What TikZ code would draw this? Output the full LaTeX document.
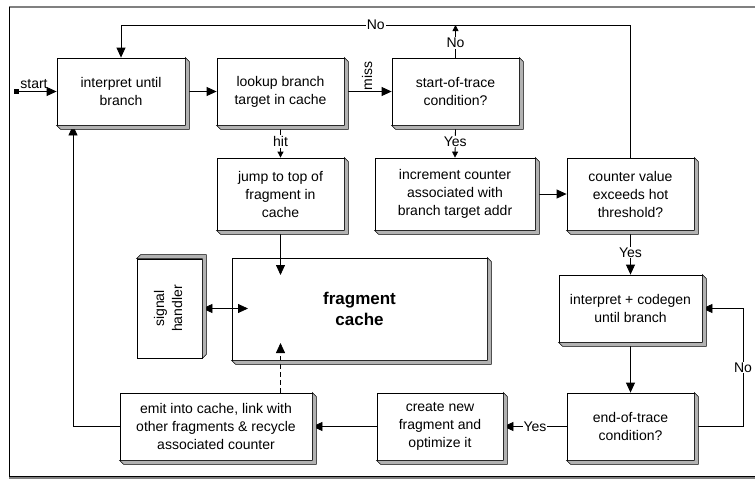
\documentclass[tikz,border=0pt]{standalone}
\usepackage{fontspec}
\setmainfont{Liberation Sans}
\usetikzlibrary{arrows.meta,calc}

\tikzset{
  box/.style={draw, fill=white, line width=0.8pt, align=center, inner sep=0pt,
    font=\fontsize{14}{18}\selectfont},
  lbl/.style={fill=white, inner sep=1pt, font=\fontsize{14}{16}\selectfont},
  conn/.style={line width=0.8pt},
  arr/.style={conn, -{Triangle[length=10pt,width=9pt]}},
  sarr/.style={conn, -{Triangle[length=6pt,width=6pt]}},
  bevel/.style={fill=black!30, draw=black, line width=0.6pt, line join=miter},
}

% 3D bevel below and to the right of a box
\newcommand\bevelbox[1]{%
  \filldraw[bevel] (#1.north east) -- ++(4,4) -- ($(#1.south east)+(4,4)$)
    -- ($(#1.south west)+(4,4)$) -- (#1.south west) -- (#1.south east) -- cycle;}
% 3D bevel above and to the right (for the upright box)
\newcommand\bevelboxup[1]{%
  \filldraw[bevel] (#1.south east) -- ++(4,-4) -- ($(#1.north east)+(4,-4)$)
    -- ($(#1.north west)+(4,-4)$) -- (#1.north west) -- (#1.north east) -- cycle;}

\begin{document}
\begin{tikzpicture}[x=1pt,y=-1pt]
\useasboundingbox (0,0) rectangle (755,479);

% window frame
\draw[line width=2pt, black!50] (9,7) -- (755,7);
\draw[line width=2pt, black!50] (9,478) -- (755,478);
\draw[line width=0.8pt] (9,7) -- (9,476.5) -- (755,476.5);

% boxes
\node[box, minimum width=128pt, minimum height=67pt] (interp) at (121,91.5) {interpret until\\branch};
\node[box, minimum width=127pt, minimum height=67pt] (lookup) at (280.5,91.5) {lookup branch\\target in cache};
\node[box, minimum width=127pt, minimum height=67pt] (sot) at (455.5,91.5) {start-of-trace\\condition?};
\node[box, minimum width=127pt, minimum height=72pt] (jump) at (280.5,194) {jump to top of\\fragment in\\cache};
\node[box, minimum width=160pt, minimum height=72pt] (incr) at (455,194) {increment counter\\associated with\\branch target addr};
\node[box, minimum width=127pt, minimum height=72pt] (cval) at (630.5,194) {counter value\\exceeds hot\\threshold?};
\node[box, minimum width=65pt, minimum height=99pt] (sig) at (169.5,308.5)
  {\rotatebox{90}{\begin{tabular}{@{}c@{}}signal\\handler\end{tabular}}};
\node[box, minimum width=255pt, minimum height=102pt,
  font=\fontsize{17}{21.5}\selectfont\bfseries] (cache) at (359.5,309) {fragment\\cache};
\node[box, minimum width=143pt, minimum height=67pt] (codegen) at (630.5,308.5) {interpret + codegen\\until branch};
\node[box, minimum width=192pt, minimum height=67pt] (emit) at (216,426.5) {emit into cache, link with\\other fragments \& recycle\\associated counter};
\node[box, minimum width=126pt, minimum height=67pt] (create) at (440,426.5) {create new\\fragment and\\optimize it};
\node[box, minimum width=127pt, minimum height=67pt] (eot) at (630.5,426.5) {end-of-trace\\condition?};

% routing points
\coordinate (startpt) at (16,91.5);
\coordinate (tr) at (630.5,25);
\coordinate (tl) at (121,25);
\coordinate (sotup) at (455.5,25);
\coordinate (rr) at (743,426.5);
\coordinate (rl) at (73,426.5);
\coordinate (cachetop) at (280.5,275);
\coordinate (cachebot) at (280.5,343);
\coordinate (cacheleft) at (248,308.5);

% connectors
\fill (startpt) ++(-2.5,-2.5) rectangle ++(5,5);
\draw[arr] (startpt) -- (interp.west);
\node[font=\fontsize{14}{16}\selectfont, inner sep=0pt] (startlbl) at (34,84) {start};
\draw[arr] (interp.east) -- (lookup.west);
\draw[arr] (lookup.east) -- (sot.west);
\node[font=\fontsize{14}{16}\selectfont, inner sep=0pt, rotate=90] (misslbl) at (367,76) {miss};
\draw[sarr] (lookup.south) -- node[lbl] {hit} (jump.north);
\draw[sarr] (sot.south) -- node[lbl] {Yes} (incr.north);
\draw[sarr] (sot.north) -- node[lbl, pos=0.45] {No} (sotup);
\draw[arr] (cval.north) -- (tr) -- node[lbl] {No} (tl) -- (interp.north);
\draw[arr] (incr.east) -- (cval.west);
\draw[arr] (cval.south) -- node[lbl] {Yes} (codegen.north);
\draw[arr] (codegen.south) -- (eot.north);
\draw[arr] (eot.east) -- (rr) -- node[lbl] {No} (rr |- codegen.east) -- (codegen.east);
\draw[arr] (eot.west) -- node[lbl] {Yes} (create.east);
\draw[arr] (create.west) -- (emit.east);
\draw[arr] (emit.west) -- (rl) -- (rl |- interp.south);
\draw[arr] (jump.south) -- (cachetop);
\draw[arr, dashed, dash pattern=on 5pt off 3pt] (emit.north -| cachebot) -- (cachebot);
\draw[conn, {Triangle[length=10pt,width=9pt]}-{Triangle[length=10pt,width=9pt]}] (sig.east) -- (cacheleft);

% bevels
\bevelbox{interp}
\bevelbox{lookup}
\bevelbox{sot}
\bevelbox{jump}
\bevelbox{incr}
\bevelbox{cval}
\bevelboxup{sig}
\bevelbox{cache}
\bevelbox{codegen}
\bevelbox{emit}
\bevelbox{create}
\bevelbox{eot}
\end{tikzpicture}
\end{document}
